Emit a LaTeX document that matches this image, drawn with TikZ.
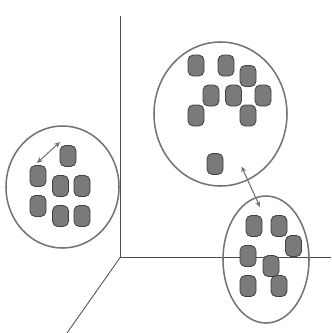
\documentclass[tikz,border=0pt]{standalone}
\usepackage{tikz}
\usetikzlibrary{shapes.geometric, arrows.meta, positioning}

\begin{document}
\begin{tikzpicture}[
        x=0.03cm, y=-0.03cm,
        axis/.style={draw=black!70, line width=0.7pt},
        cluster/.style={ellipse, draw=black!55, line width=1.3pt, inner sep=0pt},
        point/.style={rectangle, rounded corners=4.5pt, draw=black!75, fill=black!52, line width=0.7pt, minimum width=0.48cm, minimum height=0.63cm, inner sep=0pt},
        dist/.style={{Stealth[length=5pt, width=4.5pt]}-{Stealth[length=5pt, width=4.5pt]}, draw=black!55, line width=0.9pt}
    ]
        \path[use as bounding box, fill=white] (0,0) rectangle (331,333);
        % axes
        \coordinate (origin) at (120.5,257);
        \coordinate (yend) at (120.5,16);
        \coordinate (xend) at (331,257);
        \coordinate (zend) at (67,333);
        \draw[axis] (yend) -- (origin) -- (xend);
        \draw[axis] (origin) -- (zend);
        % clusters
        \node[cluster, minimum width=3.39cm, minimum height=3.66cm] (left) at (62.5,187) {};
        \node[cluster, minimum width=3.99cm, minimum height=4.32cm] (top) at (220.5,114) {};
        \node[cluster, minimum width=2.58cm, minimum height=3.81cm] (bottom) at (266,259.5) {};
        % points
        \foreach \px/\py [count=\i] in {68/156, 38/176, 60.5/186, 82/186, 38/206, 60.5/216, 82/216}
            \node[point] (a\i) at (\px,\py) {};
        \foreach \px/\py [count=\i] in {196/65.5, 226/65.5, 248/76, 211/95.5, 233.5/95.5, 263/95.5, 196/115.5, 248/115.5, 215/164}
            \node[point] (b\i) at (\px,\py) {};
        \foreach \px/\py [count=\i] in {254/226, 279/226, 293.5/246, 248/256, 279/286, 248/286, 271/266}
            \node[point] (c\i) at (\px,\py) {};
        % distances
        \coordinate (d1) at (37,163);
        \coordinate (d2) at (60,142);
        \coordinate (d3) at (241.5,166.5);
        \coordinate (d4) at (260,207);
        \draw[dist] (d1) -- (d2);
        \draw[dist] (d3) -- (d4);
    \end{tikzpicture}
\end{document}
